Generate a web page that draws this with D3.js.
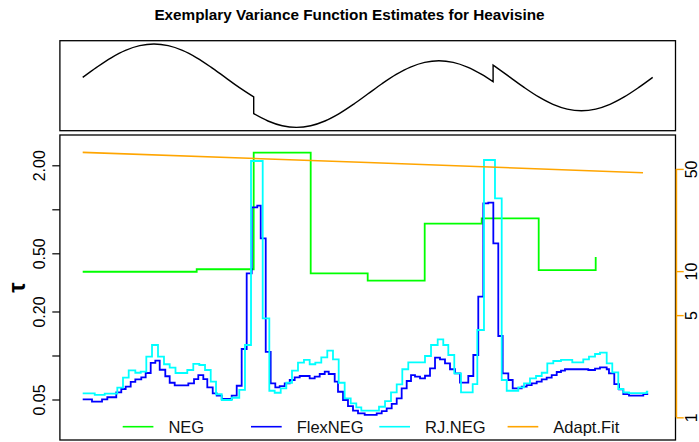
<!DOCTYPE html>
<html>
<head>
<meta charset="utf-8">
<script src="https://cdn.jsdelivr.net/npm/d3@7"></script>
<style>
  body { margin: 0; background: #fff; }
  svg { display: block; font-family: "Liberation Sans", Arial, Helvetica, sans-serif; }
</style>
</head>
<body>
<script>
// heavisine test signal (top panel), jumps at t = 0.3 and t = 0.72
const sigT = [0, 0.025, 0.05, 0.075, 0.1, 0.125, 0.15, 0.175, 0.2, 0.225, 0.25, 0.275, 0.3,
  0.3, 0.325, 0.35, 0.375, 0.4, 0.425, 0.45, 0.475, 0.5, 0.525, 0.55, 0.575, 0.6, 0.625, 0.65, 0.675, 0.7, 0.72,
  0.72, 0.725, 0.75, 0.775, 0.8, 0.825, 0.85, 0.875, 0.9, 0.925, 0.95, 0.975, 1];
const sigY = [0, 1.236, 2.351, 3.236, 3.804, 4, 3.804, 3.236, 2.351, 1.236, 0, -1.236, -2.351,
  -4.351, -5.236, -5.804, -6, -5.804, -5.236, -4.351, -3.236, -2, -0.764, 0.351, 1.236, 1.804, 2, 1.804, 1.236, 0.351, -0.528,
  1.472, 1.236, 0, -1.236, -2.351, -3.236, -3.804, -4, -3.804, -3.236, -2.351, -1.236, 0];

// NEG estimate (step function, left axis)
const negT = [0, 0.1, 0.2, 0.3, 0.4, 0.5, 0.6, 0.7, 0.8, 0.9];
const negTau = [0.374, 0.374, 0.389, 2.44, 0.365, 0.325, 0.797, 0.868, 0.384, 0.472];

// FlexNEG estimate: step start positions and levels
const flexT = [0, 0.0163, 0.0339, 0.0432, 0.0589, 0.0677, 0.0754, 0.0842, 0.0923, 0.1028, 0.1105, 0.1193, 0.1274,
  0.1351, 0.1449, 0.1526, 0.1614, 0.1853, 0.1953, 0.2028, 0.2116, 0.2186, 0.2281, 0.2351, 0.2439, 0.2614, 0.2702,
  0.2789, 0.2877, 0.2965, 0.3063, 0.3123, 0.3211, 0.3298, 0.3379, 0.3456, 0.3544, 0.3632, 0.3719, 0.3807, 0.3982,
  0.4070, 0.4158, 0.4246, 0.4316, 0.4421, 0.4479, 0.4567, 0.4654, 0.4742, 0.4830, 0.4947, 0.5158, 0.5246, 0.5333,
  0.5421, 0.5509, 0.5596, 0.5684, 0.5760, 0.5830, 0.5918, 0.6005, 0.6093, 0.6181, 0.6268, 0.6356, 0.6444, 0.6532,
  0.6619, 0.6765, 0.6853, 0.6940, 0.7028, 0.7116, 0.7204, 0.7291, 0.7368, 0.7467, 0.7544, 0.7702, 0.7789, 0.7877,
  0.7965, 0.8053, 0.8140, 0.8228, 0.8316, 0.8391, 0.8461, 0.8870, 0.8988, 0.9075, 0.9193, 0.9233, 0.9326, 0.9409,
  0.9484, 0.9584, 0.9835, 0.9921];
const flexTau = [0.0501, 0.0483, 0.0501, 0.0518, 0.0560, 0.0590, 0.0612, 0.0659, 0.0687, 0.0709, 0.0759, 0.0889, 0.0921,
  0.0799, 0.0721, 0.0651, 0.0625, 0.0645, 0.0690, 0.0735, 0.0690, 0.0606, 0.0551, 0.0531, 0.0504, 0.0531, 0.0621,
  0.1108, 0.365, 1.032, 1.058, 0.633, 0.1057, 0.0645, 0.0606, 0.0618, 0.0645, 0.0680, 0.0709, 0.0724, 0.0698,
  0.0716, 0.0747, 0.0775, 0.0747, 0.0662, 0.0565, 0.0496, 0.0451, 0.0419, 0.0402, 0.0392, 0.0402, 0.0417, 0.0435,
  0.0466, 0.0509, 0.0596, 0.0669, 0.0735, 0.0716, 0.0698, 0.0727, 0.0817, 0.0966, 0.0942, 0.0884, 0.0805, 0.0755,
  0.0653, 0.0724, 0.1008, 0.2525, 1.099, 1.110, 0.585, 0.1359, 0.0755, 0.0680, 0.0596, 0.0612, 0.0628, 0.0645,
  0.0662, 0.0687, 0.0705, 0.0735, 0.0771, 0.0789, 0.0805, 0.0796, 0.0812, 0.0830, 0.0805, 0.0755, 0.0638, 0.0587,
  0.0545, 0.0531, 0.0545, 0.0545];

// RJ.NEG estimate
const rjT = [0, 0.0211, 0.0386, 0.0607, 0.0707, 0.0807, 0.0923, 0.1018, 0.1116, 0.1216, 0.1321, 0.1426, 0.1526,
  0.1628, 0.1835, 0.1940, 0.2046, 0.2146, 0.2246, 0.2339, 0.2439, 0.2614, 0.2747, 0.2847, 0.2953, 0.3158, 0.3274,
  0.3368, 0.3474, 0.3572, 0.3672, 0.3777, 0.3882, 0.3982, 0.4081, 0.4186, 0.4291, 0.4391, 0.4491, 0.4596, 0.4702,
  0.4800, 0.4888, 0.5198, 0.5304, 0.5409, 0.5509, 0.5607, 0.5712, 0.6005, 0.6111, 0.6228, 0.6326, 0.6414, 0.6519,
  0.6637, 0.6842, 0.6923, 0.7040, 0.7233, 0.7351, 0.7439, 0.7642, 0.7742, 0.7847, 0.7953, 0.8053, 0.8151, 0.8256,
  0.8391, 0.8589, 0.8782, 0.8882, 0.8988, 0.9075, 0.9193, 0.9291, 0.9396, 0.9484, 0.9584, 0.9895, 0.9921];
const rjTau = [0.0551, 0.0537, 0.0548, 0.0602, 0.0705, 0.0792, 0.0762, 0.0775, 0.0981, 0.1180, 0.0981, 0.0871, 0.0825,
  0.0759, 0.0796, 0.0875, 0.0861, 0.0796, 0.0662, 0.0543, 0.0496, 0.0514, 0.0581, 0.1180, 2.140, 0.1797, 0.0574,
  0.0556, 0.0596, 0.0651, 0.0787, 0.0893, 0.0932, 0.0871, 0.0893, 0.0972, 0.1078, 0.0942, 0.0651, 0.0509, 0.0471,
  0.0442, 0.0420, 0.0446, 0.0488, 0.0560, 0.0635, 0.0805, 0.0898, 0.0992, 0.1180, 0.1291, 0.1180, 0.1008, 0.0755,
  0.0560, 0.0638, 0.1494, 2.174, 1.189, 0.0680, 0.0574, 0.0606, 0.0645, 0.0698, 0.0724, 0.0762, 0.0884, 0.0917,
  0.0932, 0.0898, 0.0942, 0.0981, 0.1024, 0.1045, 0.0884, 0.0767, 0.0590, 0.0560, 0.0553, 0.0565, 0.0565];

// adaptive fit (right axis)
const fitT = [0, 0.5, 0.983];
const fitVal = [64.9, 55.3, 47.1];

const leftTicks = [0.05, 0.1, 0.2, 0.5, 1, 2];
const leftLabels = ["0.05", "", "0.20", "0.50", "", "2.00"];
const rightTicks = [1, 5, 10, 50];
const legendNames = ["NEG", "FlexNEG", "RJ.NEG", "Adapt.Fit"];
const legendColors = ["#00ff00", "#0000ff", "#00ffff", "#ffa500"];

const W = 699, H = 442;
const svg = d3.select("body").append("svg").attr("width", W).attr("height", H);

const x = d3.scaleLinear().domain([-0.04, 1.04]).range([59.9, 675.5]);
const yTop = d3.scaleLinear().domain([-6.4, 4.4]).range([130.7, 40.7]);
const yL = d3.scaleLog().domain([0.02642, 3.223]).range([440, 135]);
const yR = d3.scaleLog().domain([0.6996, 85.3]).range([440, 135]);

//Title (centred on the whole page)
svg.append("text")
  .attr("x", W / 2)
  .attr("y", 19.5)
  .attr("text-anchor", "middle")
  .attr("font-weight", "bold")
  .attr("font-size", 15.3)
  .text("Exemplary Variance Function Estimates for Heavisine");

//Top panel: signal
const sig = d3.zip(sigT, sigY);
const pieces = [];
let cur = [sig[0]];
for (let i = 1; i < sig.length; i++) {
  if (sig[i][0] === sig[i - 1][0]) { pieces.push(cur); cur = []; }
  cur.push(sig[i]);
}
pieces.push(cur);
const smooth = d3.line().curve(d3.curveCatmullRom).x(d => x(d[0])).y(d => yTop(d[1]));
svg.append("path")
  .attr("d", pieces.map((p, i) => i ? smooth(p).replace(/^M/, "L") : smooth(p)).join(""))
  .attr("fill", "none")
  .attr("stroke", "#000")
  .attr("stroke-width", 1.4);

svg.append("rect")
  .attr("x", x.range()[0]).attr("y", yTop.range()[1])
  .attr("width", x.range()[1] - x.range()[0])
  .attr("height", yTop.range()[0] - yTop.range()[1])
  .attr("fill", "none").attr("stroke", "#000").attr("stroke-width", 1.3);

//Bottom panel: estimates
const step = (sc) => d3.line().curve(d3.curveStepAfter).x(d => x(d[0])).y(d => sc(d[1]));
const series = [
  [negT, negTau, legendColors[0], yL],
  [flexT, flexTau, legendColors[1], yL],
  [rjT, rjTau, legendColors[2], yL]
];
series.forEach(([t, v, col, sc]) => {
  svg.append("path")
    .attr("d", step(sc)(d3.zip(t, v)))
    .attr("fill", "none")
    .attr("stroke", col)
    .attr("stroke-width", 1.8);
});
svg.append("path")
  .attr("d", d3.line().x(d => x(d[0])).y(d => yR(d[1]))(d3.zip(fitT, fitVal)))
  .attr("fill", "none")
  .attr("stroke", legendColors[3])
  .attr("stroke-width", 1.6);

svg.append("rect")
  .attr("x", x.range()[0]).attr("y", yL.range()[1])
  .attr("width", x.range()[1] - x.range()[0])
  .attr("height", yL.range()[0] - yL.range()[1])
  .attr("fill", "none").attr("stroke", "#000").attr("stroke-width", 1.3);

//Left axis
const axL = svg.append("g")
  .attr("transform", `translate(${x.range()[0]},0)`)
  .call(d3.axisLeft(yL).tickValues(leftTicks).tickFormat((d, i) => leftLabels[i]).tickSize(7.6));
axL.attr("font-family", null).attr("font-size", null);
axL.select(".domain").remove();
axL.selectAll(".tick line").attr("stroke", "#000").attr("stroke-width", 1.2);
axL.selectAll(".tick text")
  .attr("x", 0).attr("y", -15).attr("dy", null)
  .attr("text-anchor", "middle")
  .attr("transform", "rotate(-90)")
  .attr("font-size", 16)
  .attr("fill", "#000");

//Right axis
const xr = x.range()[1] + 0.9;
const axR = svg.append("g")
  .attr("transform", `translate(${xr},0)`)
  .call(d3.axisRight(yR).tickValues(rightTicks).tickFormat(d3.format("d")).tickSize(7.3));
axR.attr("font-family", null).attr("font-size", null);
axR.select(".domain").remove();
axR.append("line")
  .attr("x1", 0).attr("x2", 0)
  .attr("y1", yR(rightTicks[0])).attr("y2", yR(rightTicks[rightTicks.length - 1]))
  .attr("stroke", legendColors[3]).attr("stroke-width", 1.6);
axR.selectAll(".tick line").attr("stroke", legendColors[3]).attr("stroke-width", 1.4);
axR.selectAll(".tick text")
  .attr("x", 0).attr("y", 21).attr("dy", null)
  .attr("text-anchor", "middle")
  .attr("transform", "rotate(-90)")
  .attr("font-size", 16)
  .attr("fill", "#000");

//y label
svg.append("text")
  .attr("transform", `translate(25,${(yL.range()[0] + yL.range()[1]) / 2}) rotate(-90)`)
  .attr("text-anchor", "middle")
  .attr("font-weight", "bold")
  .attr("font-size", 23)
  .text("τ");

//Legend
const gLegend = svg.append("g").attr("transform", "translate(122.7,426.7)");
const item = gLegend.selectAll("g")
  .data(legendNames)
  .enter().append("g")
  .attr("transform", (d, i) => `translate(${i * 128.3},0)`);
item.append("line")
  .attr("x1", 0).attr("x2", 30.7)
  .attr("stroke", (d, i) => legendColors[i])
  .attr("stroke-width", 1.6);
item.append("text")
  .attr("x", 45.7).attr("y", 6)
  .attr("font-size", 16.5)
  .attr("fill", "#111")
  .text(d => d);
</script>
</body>
</html>
